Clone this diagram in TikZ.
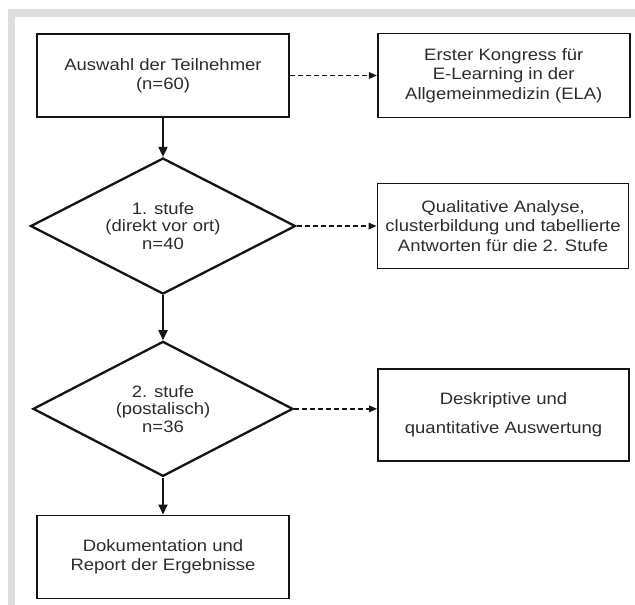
\documentclass[tikz,border=0pt]{standalone}
\usepackage{fontspec}
\setmainfont{Liberation Sans}[FakeStretch=1.12]
\usepackage{xcolor}
\usepackage{tikz}
\usetikzlibrary{arrows.meta,positioning,calc,shapes.geometric}

\definecolor{framegray}{HTML}{DCDDDF}
\definecolor{ink}{HTML}{141414}

\begin{document}
\begin{tikzpicture}[
  x=1pt,y=1pt,
  box/.style={
    draw=ink,
    line width=1.8pt,
    fill=white,
    minimum width=252pt,
    minimum height=83pt,
    inner sep=2pt,
    align=center,
    text=ink!90,
    font=\fontsize{16.5}{19.5}\selectfont
  },
  decision/.style={
    diamond,
    draw=ink,
    line width=2.3pt,
    aspect=1.95,
    minimum width=265pt,
    minimum height=136pt,
    inner sep=0pt,
    align=center,
    text=ink!90,
    font=\fontsize{16.5}{17.5}\selectfont
  },
flowarrow/.style={
  draw=ink,
  line width=1.8pt,
  -{Triangle[length=10pt,width=9pt]}
},
dasharrow/.style={
  draw=ink,
  line width=1.6pt,
  dash pattern=on 5pt off 3pt,
  -{Triangle[length=8pt,width=6.5pt]}
},
]

\useasboundingbox (0,0) rectangle (635,-605);

% Frame (grey band top and left)
\fill[framegray] (8,-9) rectangle (635,-605);
\fill[white] (15,-17) rectangle (635,-605);

% Nodes (main flow)
\node[box] (sel) at (163,-75.5) {Auswahl der Teilnehmer\\(n=60)};
\node[decision, below=39pt of sel] (stage1) {1. stufe\\(direkt vor ort)\\n=40};
\node[decision, below=45pt of stage1, minimum width=260pt, minimum height=135pt] (stage2) {2. stufe\\(postalisch)\\n=36};
\node[box, below=37pt of stage2] (report) {Dokumentation und\\Report der Ergebnisse};

% Nodes (side results)
\node[box, right=87pt of sel, minimum height=84pt] (ela) {Erster Kongress für\\E-Learning in der\\Allgemeinmedizin (ELA)};
\node[box, right=80pt of stage1, minimum width=251pt, minimum height=85pt] (quali) {Qualitative Analyse,\\clusterbildung und tabellierte\\Antworten für die 2. Stufe};
\node[box, right=83pt of stage2, yshift=-6pt, minimum width=251pt, minimum height=92pt] (quanti) {Deskriptive und\\[9pt]quantitative Auswertung};

% Forward arrows
\draw[flowarrow] (sel) -- (stage1);
\draw[flowarrow] (stage1) -- (stage2);
\draw[flowarrow] (stage2) -- (report);

% Dashed side arrows
\draw[dasharrow] (sel) -- (ela);
\draw[dasharrow] (stage1) -- (quali);
\draw[dasharrow] (stage2.east) -- (stage2.east -| quanti.west);

\end{tikzpicture}
\end{document}
